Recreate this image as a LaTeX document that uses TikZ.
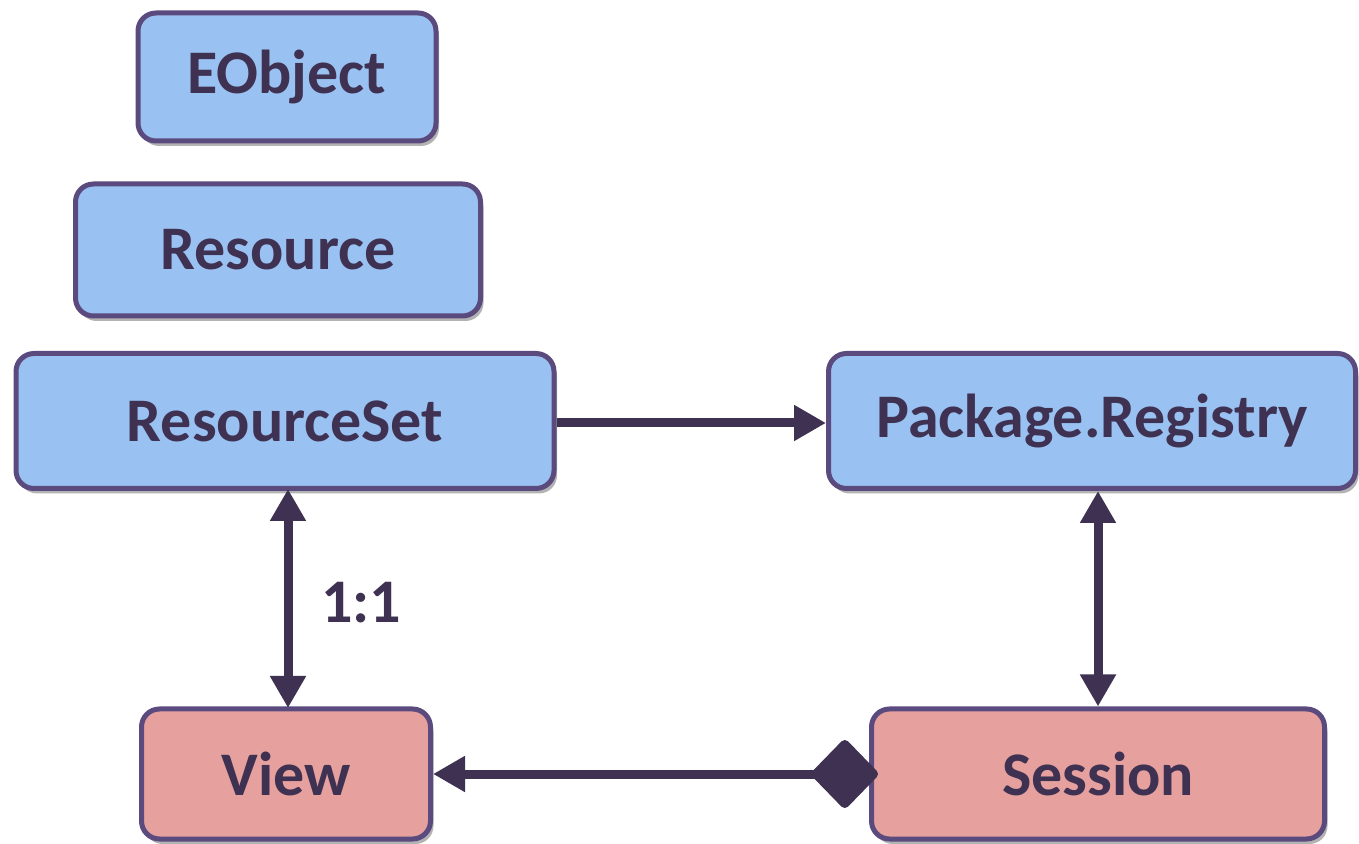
\documentclass[tikz,border=0pt]{standalone}
\usepackage{fontspec}
\setmainfont{Carlito}
\usetikzlibrary{arrows.meta,shadows}
\definecolor{inkcol}{HTML}{3F3151}
\definecolor{edgecol}{HTML}{5B4A7E}
\definecolor{blucol}{HTML}{99C1F1}
\definecolor{pinkcol}{HTML}{E6A19F}
\tikzset{
  classbox/.style={draw=edgecol, line width=5pt, rounded corners=18pt, fill=blucol,
    text=inkcol, font=\fontsize{62}{70}\selectfont\bfseries, inner sep=0pt,
    drop shadow={shadow xshift=3pt, shadow yshift=-5pt, fill=black!50, opacity=0.6}},
  viewbox/.style={classbox, fill=pinkcol},
  link/.style={draw=inkcol, line width=9pt},
}
\begin{document}
\begin{tikzpicture}[x=1pt, y=1pt]
    \useasboundingbox (0,0) rectangle (1359,843);
    % boxes
    \node[classbox, minimum width=298pt, minimum height=128pt] (eobj) at (287,766) {EObject};
    \node[classbox, minimum width=405pt, minimum height=132pt] (res) at (278,593) {Resource};
    \node[classbox, minimum width=538pt, minimum height=135pt] (rset) at (285,422) {ResourceSet};
    \node[classbox, minimum width=527pt, minimum height=135pt] (reg) at (1092,422) {Package.Registry};
    \node[viewbox, minimum width=289pt, minimum height=130pt] (view) at (286,69) {View};
    \node[viewbox, minimum width=453pt, minimum height=130pt] (sess) at (1098,69) {Session};

    % ResourceSet to Registry
    \draw[link, -{Triangle[length=32pt, width=34pt]}] (rset.east |- 0,420) -- (reg.west |- 0,420);
    % ResourceSet to View
    \draw[link, {Triangle[length=32pt, width=34pt]}-{Triangle[length=32pt, width=34pt]}]
        (288,354) coordinate (rsb) -- (288,135) coordinate (vwt);
    \node[text=inkcol, font=\fontsize{62}{70}\selectfont\bfseries] (ratio) at (361,240) {1:1};
    % Registry to Session
    \draw[link, {Triangle[length=32pt, width=34pt]}-{Triangle[length=32pt, width=34pt]}]
        (reg.south -| sess.north) -- (sess.north);
    % Session to View
    \draw[link, {Diamond[length=70pt, width=72pt, round]}-{Triangle[length=32pt, width=34pt]}]
        (878,69) -- (view.east);
\end{tikzpicture}
\end{document}
